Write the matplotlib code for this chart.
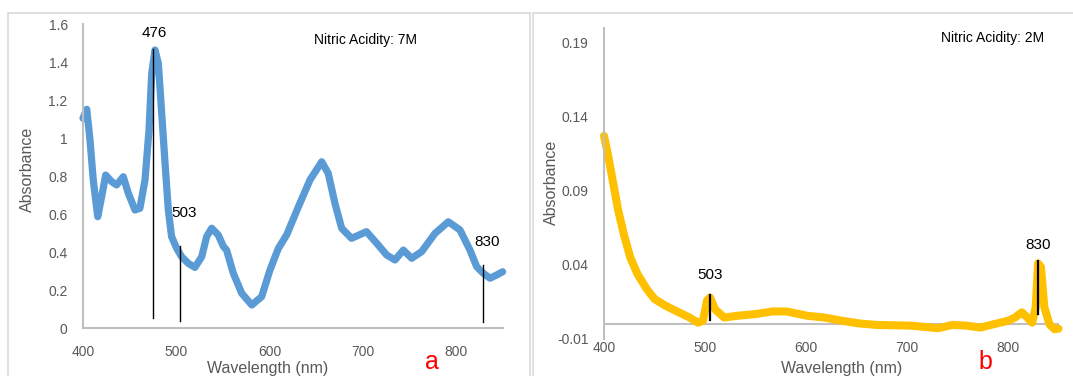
import matplotlib
matplotlib.use('Agg')
import matplotlib.pyplot as plt
import matplotlib.patches as patch
from matplotlib.ticker import FormatStrFormatter

plt.rcParams['font.family'] = ['Liberation Sans', 'DejaVu Sans']
plt.rcParams['axes.unicode_minus'] = False

# spectrum a (7M)
wl_a = [400, 404, 407.5, 411, 415.8, 420, 424.3, 430.8, 436, 443.2, 448.6,
        455.8, 461, 466.5, 470.8, 473.7, 477.2, 480.8, 484.4, 488, 491.5,
        495, 500.5, 505.8, 513, 520, 527.3, 532.6, 538, 545, 550.5, 554,
        561.2, 570.2, 581, 591.6, 600.5, 609.5, 618.4, 631, 643.4, 656, 663,
        670.2, 677.4, 688, 704, 715, 725.7, 734.6, 743.5, 752.5, 763.2,
        777.5, 791.8, 804.3, 815, 822.2, 829.3, 836.5, 843.6, 850]
abs_a = [1.104, 1.151, 0.99, 0.779, 0.586, 0.691, 0.805, 0.77, 0.753, 0.796,
         0.709, 0.621, 0.63, 0.779, 1.042, 1.34, 1.463, 1.393, 1.13, 0.867,
         0.621, 0.481, 0.419, 0.375, 0.34, 0.319, 0.375, 0.481, 0.525, 0.49,
         0.43, 0.41, 0.288, 0.183, 0.121, 0.165, 0.305, 0.419, 0.49, 0.638,
         0.779, 0.875, 0.814, 0.656, 0.525, 0.472, 0.507, 0.446, 0.384,
         0.358, 0.41, 0.367, 0.402, 0.498, 0.559, 0.516, 0.41, 0.323, 0.288,
         0.262, 0.279, 0.296]

# spectrum b (2M)
wl_b = [400, 404, 409, 414, 419.5, 426, 433, 442, 450, 460.7, 474, 484.7, 493,
        498, 502, 505, 510, 519, 532.6, 550, 567, 580.6, 601, 618, 635.5,
        652.6, 669.7, 704, 731, 745, 759, 772.6, 786, 800, 807, 813.7, 819,
        824, 827.4, 829.8, 832.6, 836, 841, 846, 850]
abs_b = [0.127, 0.114, 0.0955, 0.077, 0.061, 0.045, 0.034, 0.024, 0.017,
         0.0125, 0.008, 0.0045, 0.001, 0.0023, 0.016, 0.018, 0.010, 0.0045,
         0.0057, 0.0068, 0.0086, 0.0086, 0.0057, 0.0045, 0.0023, 0.0005,
         -0.0005, -0.001, -0.0027, -0.0005, -0.001, -0.0023, 0.0, 0.0023,
         0.0045, 0.008, 0.0045, 0.001, 0.0114, 0.041, 0.0386, 0.0114, 0.0,
         -0.0034, -0.003]

# peak markers: (wavelength, line bottom, line top, label x, label y, text)
peaks_a = [(475.4, 0.051, 1.467, 476, 1.554, '476'),
           (504, 0.038, 0.43, 508, 0.606, '503'),
           (829.3, 0.033, 0.33, 833, 0.454, '830')]
peaks_b = [(505, 0.003, 0.0199, 505, 0.033, '503'),
           (830, 0.0069, 0.0423, 830, 0.0537, '830')]

W, H = 1073, 376
gray = '#595959'
axis_gray = '#bfbfbf'
border = '#d9d9d9'


def fx(x):
    return x / W


def fy(y):
    return 1 - y / H


fig = plt.figure(figsize=(W / 100, H / 100), dpi=100)

# chart area borders
fig.patches.append(patch.Rectangle((fx(8.3), fy(400)), fx(529.5 - 8.3),
                                   (400 - 13.3) / H, transform=fig.transFigure,
                                   fill=False, edgecolor=border, lw=1.2))
fig.patches.append(patch.Rectangle((fx(533), fy(400)), fx(600),
                                   (400 - 13.3) / H, transform=fig.transFigure,
                                   fill=False, edgecolor=border, lw=1.2))

# left panel
ax = fig.add_axes([fx(83), fy(328), fx(502.6 - 83), (328 - 24) / H])
ax.plot(wl_a, abs_a, color='#5b9bd5', lw=5.2, solid_capstyle='round',
        solid_joinstyle='round', clip_on=False)
for w, lo, hi, tx, ty, t in peaks_a:
    ax.plot([w, w], [lo, hi], color='black', lw=1.0)
    ax.text(tx, ty, t, fontsize=11, ha='center', va='center')
ax.set(xlim=(400, 850), ylim=(0, 1.6))
ax.set_xticks([400, 500, 600, 700, 800])
ax.set_yticks([0, 0.2, 0.4, 0.6, 0.8, 1.0, 1.2, 1.4, 1.6])
ax.yaxis.set_major_formatter(FormatStrFormatter('%g'))
ax.tick_params(length=0, labelsize=10, labelcolor=gray)
ax.tick_params(axis='x', pad=12)
ax.tick_params(axis='y', pad=11)
for s in ['top', 'right']:
    ax.spines[s].set_visible(False)
for s in ['left', 'bottom']:
    ax.spines[s].set_color(axis_gray)
    ax.spines[s].set_linewidth(1.5)
ax.text(fx(366), fy(40), 'Nitric Acidity: 7M', transform=fig.transFigure,
        fontsize=10, ha='center', va='center')
ax.patch.set_alpha(0)

# right panel
ax_2 = fig.add_axes([fx(604), fy(339), fx(1058.5 - 604), (339 - 27.7) / H])
ax_2.axhline(0, color=axis_gray, lw=1.5)
ax_2.plot(wl_b, abs_b, color='#ffc000', lw=5.8, solid_capstyle='round',
          solid_joinstyle='round', clip_on=False)
for w, lo, hi, tx, ty, t in peaks_b:
    ax_2.plot([w, w], [lo, hi], color='black', lw=1.6)
    ax_2.text(tx, ty, t, fontsize=11, ha='center', va='center')
ax_2.set(xlim=(400, 850), ylim=(-0.01, 0.2))
ax_2.set_xticks([400, 500, 600, 700, 800])
ax_2.set_yticks([-0.01, 0.04, 0.09, 0.14, 0.19])
ax_2.yaxis.set_major_formatter(FormatStrFormatter('%g'))
ax_2.tick_params(length=0, labelsize=10, labelcolor=gray)
ax_2.tick_params(axis='x', pad=1.5)
ax_2.tick_params(axis='y', pad=11)
for s in ['top', 'right', 'bottom']:
    ax_2.spines[s].set_visible(False)
ax_2.spines['left'].set_color(axis_gray)
ax_2.spines['left'].set_linewidth(1.5)
ax_2.text(fx(993), fy(37.7), 'Nitric Acidity: 2M', transform=fig.transFigure,
          fontsize=10, ha='center', va='center')
ax_2.patch.set_alpha(0)

# axis titles and panel letters
fig.text(fx(267.6), fy(368), 'Wavelength (nm)', fontsize=11.5, color=gray,
         ha='center', va='center')
fig.text(fx(842), fy(368), 'Wavelength (nm)', fontsize=11.5, color=gray,
         ha='center', va='center')
fig.text(fx(27), fy(169), 'Absorbance', fontsize=11.5, color=gray,
         rotation=90, ha='center', va='center')
fig.text(fx(551), fy(182), 'Absorbance', fontsize=11.5, color=gray,
         rotation=90, ha='center', va='center')
fig.text(fx(431.7), fy(361.7), 'a', fontsize=18, color='red',
         ha='center', va='center')
fig.text(fx(985), fy(361.7), 'b', fontsize=18, color='red',
         ha='center', va='center')

fig.savefig('out.png', dpi=100)
